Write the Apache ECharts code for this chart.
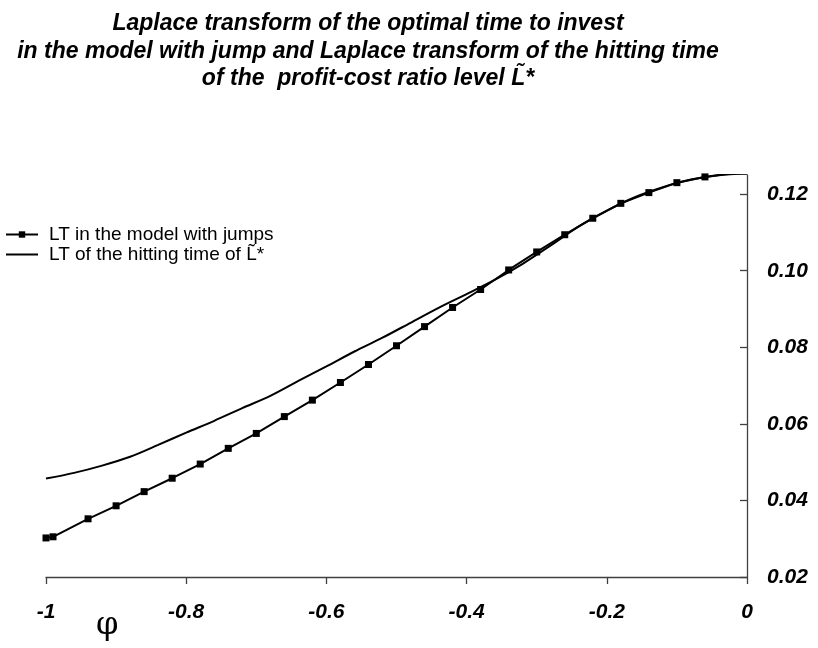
<!DOCTYPE html>
<html>
<head>
<meta charset="utf-8">
<script src="https://cdn.jsdelivr.net/npm/echarts@6/dist/echarts.min.js"></script>
<style>
  html, body { margin: 0; padding: 0; background: #fff; }
  #chart { width: 818px; height: 648px; }
</style>
</head>
<body>
<div id="chart"></div>
<script>
// Laplace transform of the optimal time to invest (model with jumps)
const phiJump = [-1, -0.99, -0.94, -0.90, -0.86, -0.82, -0.78, -0.74, -0.70, -0.66, -0.62, -0.58,
  -0.54, -0.50, -0.46, -0.42, -0.38, -0.34, -0.30, -0.26, -0.22, -0.18, -0.14, -0.10, -0.06, -0.02, 0];
const ltJump = [0.0302, 0.0305, 0.0352, 0.0386, 0.0423, 0.0458, 0.0495, 0.0536, 0.0575, 0.0619, 0.0662, 0.0708,
  0.0755, 0.0804, 0.0854, 0.0904, 0.0951, 0.1002, 0.1049, 0.1094, 0.1137, 0.1176, 0.1204, 0.1230, 0.1245, 0.1254, 0.1254];

// Laplace transform of the hitting time of the level L~*
const phiHit = [-1, -0.96, -0.92, -0.88, -0.84, -0.80, -0.76, -0.72, -0.68, -0.64, -0.60, -0.56, -0.52,
  -0.48, -0.44, -0.40, -0.36, -0.32, -0.28, -0.24, -0.20, -0.16, -0.12, -0.08, -0.04, 0];
const ltHit = [0.0457, 0.0472, 0.0491, 0.0514, 0.0545, 0.0577, 0.0608, 0.0641, 0.0673, 0.0712, 0.0750, 0.0789, 0.0825,
  0.0864, 0.0903, 0.0939, 0.0976, 0.1018, 0.1066, 0.1116, 0.1157, 0.1192, 0.1218, 0.1238, 0.1250, 0.1254];

const yTicks = [0.02, 0.04, 0.06, 0.08, 0.10, 0.12];

const seriesNames = ['LT in the model with jumps', 'LT of the hitting time of L\u0303*'];
const titleText = 'Laplace transform of the optimal time to invest\n' +
  'in the model with jump and Laplace transform of the hitting time\n' +
  'of the  profit-cost ratio level L\u0303*';

const FONT = 'Liberation Sans, Arial, sans-serif';
const AXIS_COLOR = '#404040';

const chart = echarts.init(document.getElementById('chart'), null, { renderer: 'canvas' });

const tickLabelStyle = {
  fontFamily: FONT,
  fontSize: 21,
  fontWeight: 'bold',
  fontStyle: 'italic',
  color: '#000'
};

chart.setOption({
  animation: false,
  backgroundColor: '#ffffff',
  title: {
    text: titleText,
    left: 363,
    top: 5,
    textAlign: 'center',
    textStyle: {
      fontFamily: FONT,
      fontSize: 23,
      fontWeight: 'bold',
      fontStyle: 'italic',
      color: '#000',
      lineHeight: 27.5
    }
  },
  legend: {
    orient: 'vertical',
    left: 0,
    top: 220,
    itemWidth: 32,
    itemHeight: 8,
    itemGap: 1,
    textStyle: {
      fontFamily: FONT,
      fontSize: 19,
      lineHeight: 19,
      color: '#000',
      padding: [0, 0, 0, 6]
    },
    data: [
      { name: seriesNames[0] },
      // plain line key: the marker part of the key is hidden
      { name: seriesNames[1], itemStyle: { color: 'rgba(0,0,0,0)', borderWidth: 0 } }
    ]
  },
  grid: { left: 46, right: 71, top: 175, bottom: 71 },
  xAxis: {
    type: 'value',
    min: -1,
    max: 0,
    interval: 0.2,
    axisLine: { onZero: false, lineStyle: { color: AXIS_COLOR, width: 1.3 } },
    axisTick: { show: true, length: 7, lineStyle: { color: AXIS_COLOR, width: 1.3 } },
    splitLine: { show: false },
    axisLabel: Object.assign({
      margin: 25,
      formatter: v => String(+v.toFixed(1))
    }, tickLabelStyle)
  },
  yAxis: {
    type: 'value',
    position: 'right',
    min: 0.02,
    max: 0.125,
    axisLine: { show: true, onZero: false, lineStyle: { color: AXIS_COLOR, width: 1.3 } },
    axisTick: { show: true, inside: true, length: 7, customValues: yTicks, lineStyle: { color: AXIS_COLOR, width: 1.3 } },
    splitLine: { show: false },
    axisLabel: Object.assign({
      margin: 20,
      customValues: yTicks,
      formatter: v => v.toFixed(2)
    }, tickLabelStyle)
  },
  graphic: [{
    type: 'text',
    left: 96,
    top: 610,
    style: {
      text: 'φ',
      font: 'normal 32px "DejaVu Serif", "Liberation Serif", serif',
      fill: '#000'
    }
  }],
  series: [
    {
      name: seriesNames[0],
      type: 'line',
      data: phiJump.map((p, i) => [p, ltJump[i]]),
      symbol: 'rect',
      symbolSize: 7,
      showAllSymbol: true,
      lineStyle: { color: '#000', width: 2 },
      itemStyle: { color: '#000' },
      z: 3
    },
    {
      name: seriesNames[1],
      type: 'line',
      data: phiHit.map((p, i) => [p, ltHit[i]]),
      smooth: 0.3,
      symbol: 'none',
      lineStyle: { color: '#000', width: 2 },
      itemStyle: { color: '#000' },
      z: 2
    }
  ]
});
</script>
</body>
</html>
